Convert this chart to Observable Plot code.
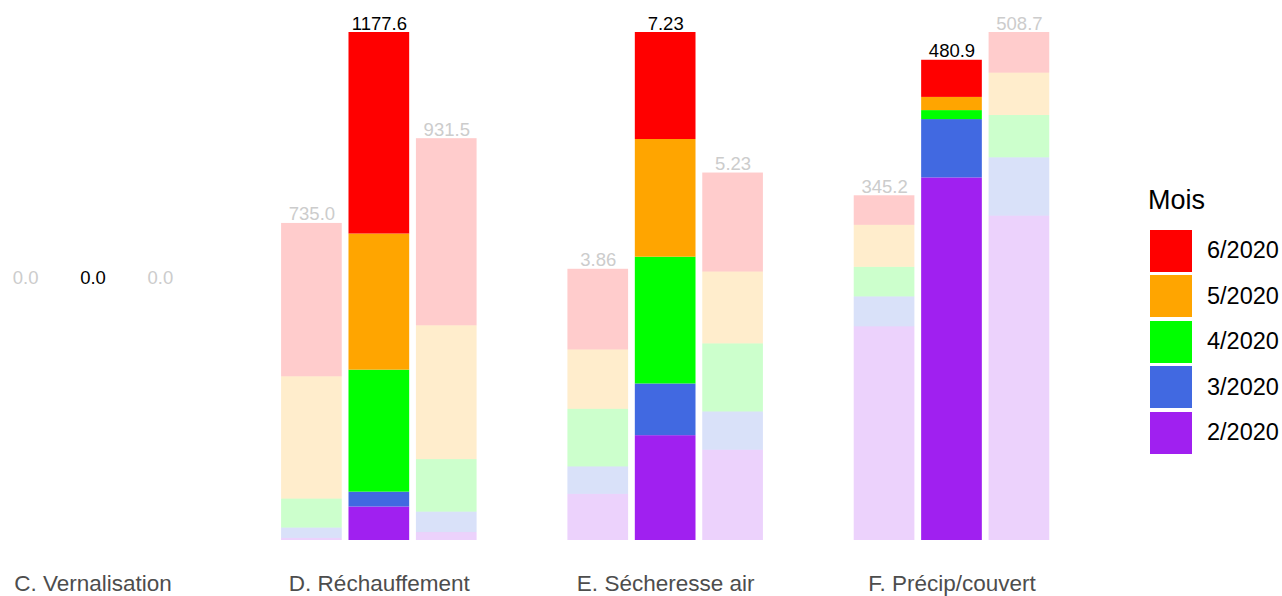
<!DOCTYPE html>
<html><head><meta charset="utf-8">
<script src="https://cdn.jsdelivr.net/npm/d3@7"></script>
<script src="https://cdn.jsdelivr.net/npm/@observablehq/plot@0.6"></script>
<style>
body{margin:0;background:#fff;font-family:"Liberation Sans",Arial,sans-serif;}
#wrap{position:relative;width:1282px;height:596px;overflow:hidden;}
#chart{position:absolute;left:0;top:0;}
#legend{position:absolute;left:1148px;top:184px;color:#000;}
#legend .titre{font-size:27px;line-height:32px;margin-bottom:12px;}
#legend .item{display:flex;align-items:center;height:45.5px;}
#legend .sw{width:42px;height:42px;margin-left:2px;}
#legend .lab{font-size:23.5px;margin-left:15px;}
</style></head><body>
<div id="wrap"><div id="chart"></div><div id="legend"></div></div>
<script>
// Facets (panels)
const facettes = ["C. Vernalisation", "D. Réchauffement", "E. Sécheresse air", "F. Précip/couvert"];
// Three bars per facet; the middle one is highlighted
const groupes = ["g1", "g2", "g3"];
const groupeMisEnAvant = "g2";
// Months (stack order bottom -> top)
const mois = ["2/2020", "3/2020", "4/2020", "5/2020", "6/2020"];
const couleurs = ["#A020F0", "#4169E1", "#00FF00", "#FFA500", "#FF0000"];
// Values per group, each array ordered like `mois`
const vernalisation = [[0, 0, 0, 0, 0], [0, 0, 0, 0, 0], [0, 0, 0, 0, 0]];
const rechauffement = [[4.8, 24.0, 67.2, 283.5, 355.5], [77.7, 34.4, 282.8, 315.6, 467.1], [18.4, 47.3, 121.8, 310.2, 433.8]];
const secheresseAir = [[0.657, 0.390, 0.820, 0.845, 1.148], [1.492, 0.736, 1.804, 1.675, 1.523], [1.285, 0.544, 0.969, 1.023, 1.409]];
const precipCouvert = [[214.0, 29.9, 29.6, 42.1, 29.6], [363.1, 58.4, 9.0, 13.2, 37.2], [324.8, 58.4, 42.4, 42.4, 40.7]];
const decimales = [1, 1, 2, 1];

const valeurs = [vernalisation, rechauffement, secheresseAir, precipCouvert];
const lignes = [];
const totaux = [];
facettes.forEach((f, i) => {
  const tot = valeurs[i].map(g => d3.sum(g));
  const maxF = d3.max(tot);
  groupes.forEach((g, j) => {
    mois.forEach((m, k) => {
      const v = valeurs[i][j][k];
      lignes.push({facette: f, groupe: g, mois: m, valeur: v, part: maxF > 0 ? v / maxF : 0});
    });
    totaux.push({facette: f, groupe: g, total: tot[j], part: maxF > 0 ? tot[j] / maxF : 0.5,
      label: tot[j].toFixed(decimales[i])});
  });
});
const estMis = d => d.groupe === groupeMisEnAvant;

const plot = Plot.plot({
  width: 1130, height: 596,
  marginTop: 32, marginBottom: 56, marginLeft: 0, marginRight: 0,
  style: {fontFamily: '"Liberation Sans", Arial, sans-serif', background: "transparent"},
  fx: {domain: facettes, range: [-12, 1056], paddingInner: 0.27, paddingOuter: 0, round: false, label: null, axis: null},
  x: {domain: groupes, paddingInner: 0.1, paddingOuter: 0.1, axis: null, round: false},
  y: {domain: [0, 1], axis: null},
  color: {domain: mois, range: couleurs},
  marks: [
    Plot.barY(lignes.filter(d => !estMis(d)), {fx: "facette", x: "groupe", y: "part", fill: "mois", fillOpacity: 0.2}),
    Plot.barY(lignes.filter(estMis), {fx: "facette", x: "groupe", y: "part", fill: "mois"}),
    Plot.text(totaux.filter(d => !estMis(d)), {fx: "facette", x: "groupe", y: "part", text: "label", lineAnchor: "bottom", dy: -3, fontSize: 18.5, fill: "#cccccc"}),
    Plot.text(totaux.filter(estMis), {fx: "facette", x: "groupe", y: "part", text: "label", lineAnchor: "bottom", dy: -3, fontSize: 18.5, fill: "#000000"}),
    Plot.axisFx({anchor: "bottom", tickSize: 0, tickPadding: 35, fontSize: 22.5, label: null, fill: "#4d4d4d"})
  ]
});
document.getElementById("chart").appendChild(plot);

// Legend (top -> bottom: 6/2020 ... 2/2020)
const leg = document.getElementById("legend");
const t = document.createElement("div"); t.className = "titre"; t.textContent = "Mois"; leg.appendChild(t);
mois.slice().reverse().forEach(m => {
  const it = document.createElement("div"); it.className = "item";
  const sw = document.createElement("div"); sw.className = "sw"; sw.style.background = couleurs[mois.indexOf(m)];
  const lb = document.createElement("div"); lb.className = "lab"; lb.textContent = m;
  it.appendChild(sw); it.appendChild(lb); leg.appendChild(it);
});
</script>
</body></html>
